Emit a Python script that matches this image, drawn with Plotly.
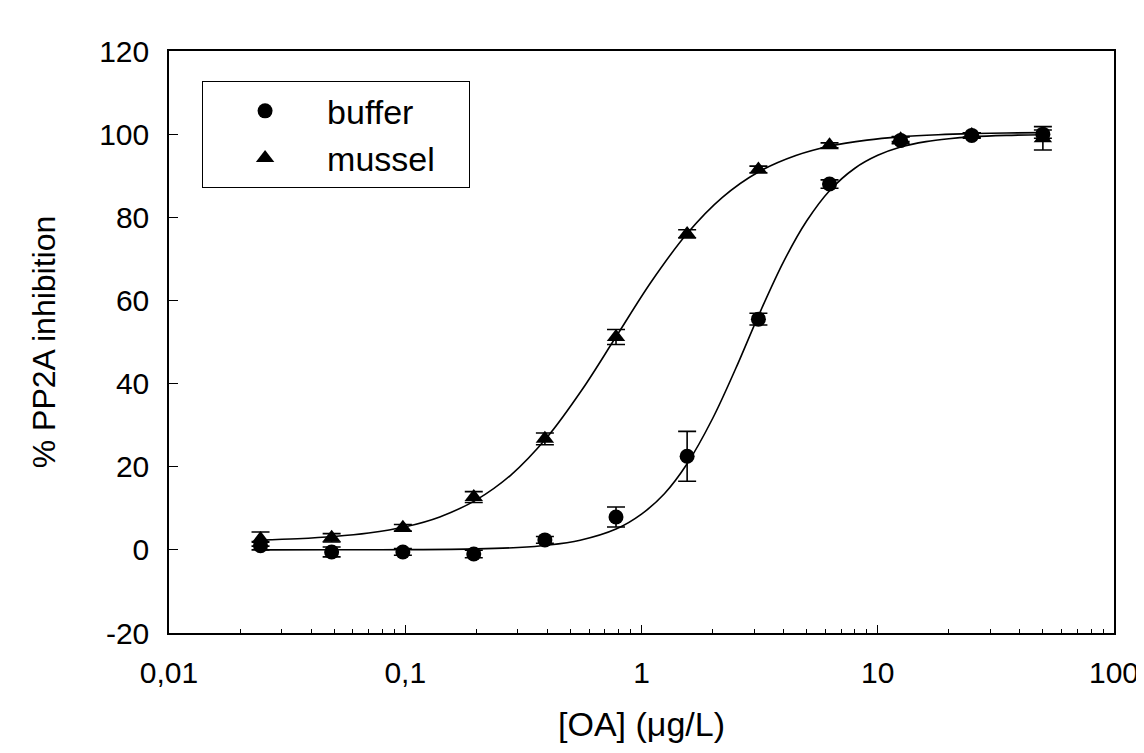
import plotly.graph_objects as go

# measured points
conc = [0.0244, 0.0488, 0.0977, 0.195, 0.39, 0.78, 1.56, 3.125, 6.25, 12.5, 25, 50]
buffer_y = [1.0, -0.5, -0.5, -1.0, 2.4, 7.9, 22.5, 55.5, 88.0, 98.5, 99.7, 100.0]
buffer_err = [1.0, 1.2, 0.8, 0.9, 0.8, 2.4, 6.0, 1.4, 1.0, 0.8, 0.6, 1.0]
mussel_y = [2.6, 2.9, 5.3, 12.7, 26.7, 51.2, 76.0, 91.5, 97.3, 98.8, 99.8, 99.0]
mussel_err = [1.7, 1.0, 0.8, 1.3, 1.4, 1.8, 1.0, 0.8, 0.6, 0.6, 0.5, 2.8]

# fitted curves
buffer_fit_x = [0.0244, 0.05, 0.1, 0.2, 0.3, 0.4, 0.55, 0.78, 1.0, 1.25, 1.56, 2.0, 2.5,
                3.125, 4.0, 5.0, 6.25, 8.0, 10.0, 12.5, 16.0, 20.0, 25.0, 35.0, 50.0]
buffer_fit_y = [0.0, 0.01, 0.05, 0.23, 0.58, 1.12, 2.31, 5.0, 8.6, 13.5, 20.7, 31.6, 43.5,
                56.3, 69.4, 79.1, 86.4, 91.8, 94.9, 96.9, 98.2, 98.9, 99.35, 99.7, 99.87]
mussel_fit_x = [0.0244, 0.035, 0.05, 0.07, 0.1, 0.14, 0.2, 0.28, 0.4, 0.56, 0.78, 1.1,
                1.56, 2.2, 3.125, 4.5, 6.25, 9.0, 12.5, 18.0, 25.0, 35.0, 50.0]
mussel_fit_y = [2.38, 2.68, 3.2, 4.04, 5.55, 7.93, 12.03, 18.0, 27.2, 38.5, 51.25, 64.5,
                76.1, 84.8, 90.9, 94.87, 97.1, 98.57, 99.35, 99.85, 100.12, 100.28, 100.37]

x_tickvals = [0.01, 0.1, 1, 10, 100]
x_ticktext = ["0,01", "0,1", "1", "10", "100"]
y_tickvals = [-20, 0, 20, 40, 60, 80, 100, 120]
y_ticktext = ["-20", "0", "20", "40", "60", "80", "100", "120"]

legend_names = ["buffer", "mussel"]
PAD = "\u00a0\u00a0\u00a0"

FONT = "Liberation Sans, Arial, sans-serif"

fig = go.Figure()
fig.add_trace(go.Scatter(x=buffer_fit_x, y=buffer_fit_y, mode="lines", line_shape="spline",
                         line=dict(color="black", width=1.6), showlegend=False, hoverinfo="skip"))
fig.add_trace(go.Scatter(x=mussel_fit_x, y=mussel_fit_y, mode="lines", line_shape="spline",
                         line=dict(color="black", width=1.6), showlegend=False, hoverinfo="skip"))
fig.add_trace(go.Scatter(x=conc, y=buffer_y, mode="markers", name=legend_names[0] + PAD,
                         marker=dict(symbol="circle", size=15, color="black"),
                         error_y=dict(type="data", array=buffer_err, color="black", thickness=1.6, width=9)))
fig.add_trace(go.Scatter(x=conc, y=mussel_y, mode="markers", name=legend_names[1] + PAD,
                         marker=dict(symbol="triangle-up", size=16, color="black"),
                         error_y=dict(type="data", array=mussel_err, color="black", thickness=1.6, width=9)))

fig.update_layout(
    width=1136, height=745,
    margin=dict(l=161, r=30, t=43, b=120),
    paper_bgcolor="white", plot_bgcolor="white",
    font=dict(family=FONT, size=30, color="black"),
    legend=dict(x=0.035, y=0.948, xanchor="left", yanchor="top",
                bordercolor="black", borderwidth=1, bgcolor="white",
                font=dict(size=34), itemwidth=114),
)
fig.update_xaxes(
    type="log", range=[-2, 2], automargin=False,
    tickvals=x_tickvals, ticktext=x_ticktext,
    ticks="inside", ticklen=8, tickwidth=1.2, tickcolor="black",
    minor=dict(ticks="inside", dtick="D1", ticklen=4, tickwidth=1, tickcolor="black", showgrid=False),
    showline=True, linecolor="black", linewidth=1.5, mirror=True,
    showgrid=False, zeroline=False,
    ticklabelstandoff=12,
    title=dict(text="[OA] (μg/L)", font=dict(size=34), standoff=24),
)
fig.update_yaxes(
    range=[-20, 120], automargin=False,
    tickvals=y_tickvals, ticktext=y_ticktext,
    ticks="inside", ticklen=9, tickwidth=1.2, tickcolor="black",
    showline=True, linecolor="black", linewidth=1.5, mirror=True,
    showgrid=False, zeroline=False,
    ticklabelstandoff=12,
    title=dict(text="% PP2A inhibition", font=dict(size=32), standoff=34),
)

fig.write_html("out.html")
